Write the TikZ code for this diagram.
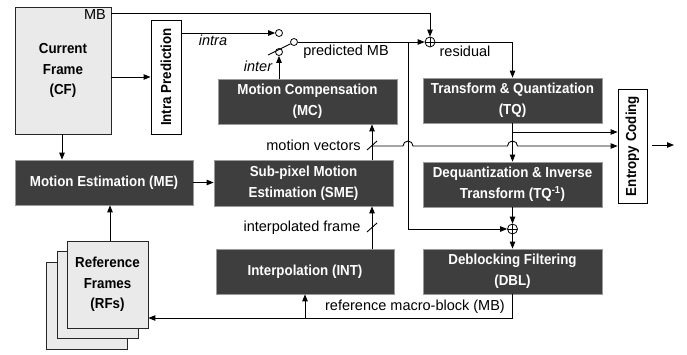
\documentclass[tikz,border=0pt]{standalone}
\usepackage{fontspec}
\setmainfont{Liberation Sans}
\newfontfamily\condfont[FakeStretch=0.92]{Liberation Sans}
\usetikzlibrary{arrows.meta}
\definecolor{boxdark}{HTML}{3E3E3E}
\definecolor{boxedge}{HTML}{9A9A9A}
\definecolor{boxlight}{HTML}{EAEAEA}
\tikzset{
  darkbox/.style={draw=boxedge, line width=0.8pt, fill=boxdark, text=white,
    font=\condfont\bfseries\fontsize{14.5}{21}\selectfont, align=center,
    inner sep=0pt, minimum width=179pt, minimum height=45pt},
  framebox/.style={draw=black!85, line width=0.8pt, fill=boxlight,
    font=\condfont\bfseries\fontsize{14.5}{20.5}\selectfont, align=center,
    inner sep=0pt},
  sidebox/.style={draw=black, line width=0.9pt, fill=white, inner sep=0pt},
  sidetext/.style={rotate=90, font=\condfont\bfseries\fontsize{14.5}{16}\selectfont, inner sep=0pt},
  sumnode/.style={circle, draw=black, line width=0.8pt, minimum size=10pt, inner sep=0pt,
    path picture={\draw[line width=0.8pt] (path picture bounding box.north) -- (path picture bounding box.south)
      (path picture bounding box.west) -- (path picture bounding box.east);}},
  contact/.style={circle, draw=black, line width=0.8pt, fill=white, minimum size=7pt, inner sep=0pt},
  wire/.style={line width=0.9pt},
  arr/.style={wire, -{Triangle[length=7pt,width=5.5pt]}},
  lbl/.style={font=\fontsize{14.5}{16}\selectfont, inner sep=0pt},
  ilbl/.style={font=\itshape\fontsize{14.5}{16}\selectfont, inner sep=0pt},
}
\begin{document}
\begin{tikzpicture}[x=1pt, y=-1pt]
\useasboundingbox (0,0) rectangle (687,354);

% Frame stores
\node[framebox, minimum width=96pt, minimum height=127pt] (CF) at (63,70.5) {Current\\Frame\\(CF)};
\node[framebox, minimum width=81pt, minimum height=87pt] (RF3) at (86.5,305.5) {};
\node[framebox, minimum width=81pt, minimum height=87pt] (RF2) at (97.5,294.5) {};
\node[framebox, minimum width=81pt, minimum height=87pt] (RF1) at (107.5,284.5) {Reference\\Frames\\(RFs)};

% Side boxes with vertical text
\node[sidebox, minimum width=30pt, minimum height=114pt] (IP) at (166,77) {};
\node[sidetext] (IPt) at (IP.center) {Intra Prediction};
\node[sidebox, minimum width=29pt, minimum height=114pt] (EC) at (632.5,146) {};
\node[sidetext] (ECt) at (EC.center) {Entropy Coding};

% Processing blocks
\node[darkbox] (MC)  at (307.5,101.5) {Motion Compensation\\(MC)};
\node[darkbox, minimum height=46pt] (SME) at (303.5,183) {Sub-pixel Motion\\Estimation (SME)};
\node[darkbox, minimum width=178pt] (ME)  at (104,182.5) {Motion Estimation (ME)};
\node[darkbox, minimum width=178pt] (INT) at (305,271.5) {Interpolation (INT)};
\node[darkbox] (TQ)  at (512.5,100.5) {Transform \& Quantization\\(TQ)};
\node[darkbox] (TQI) at (512.5,184.5) {Dequantization \& Inverse\\Transform (TQ\textsuperscript{-1})};
\node[darkbox] (DBL) at (512.5,271.5) {Deblocking Filtering\\(DBL)};

% Adders and the intra/inter switch
\node[sumnode] (add1) at (430,42) {};
\node[sumnode] (add2) at (512.5,229) {};
\node[contact] (sa) at (279,33) {};
\node[contact] (sb) at (279,52) {};
\node[contact] (sc) at (294,42) {};

% Helper points
\coordinate (mbout) at (111,13);
\coordinate (lever) at (268,55);
\coordinate (br1) at (408,42);
\coordinate (tqtap) at (512.5,132);
\coordinate (mvtap) at (372,146);
\coordinate (ecout) at (674,145);
\coordinate (fb) at (512.5,318);
\coordinate (inttap) at (305,318);
\coordinate (cfx) at (62,0);
\coordinate (rfx) at (110,0);

% Current frame paths
\draw[arr] (mbout) -| (add1.north);
\draw[arr] (IP.west -| CF.east) -- (IP.west);
\draw[arr] (CF.south -| cfx) -- (ME.north -| cfx);
\draw[arr] (RF1.north -| rfx) -- (ME.south -| rfx);
\draw[arr] (ME.east) -- (SME.west |- ME.east);

% Prediction selection
\draw[arr] (IP.east |- sa) -- (sa.west);
\draw[wire] (sc) -- (lever);
\draw[arr] (MC.north -| sb) -- (sb.south);
\draw[arr] (sc.east) -- (add1.west);
\draw[arr] (br1) |- (add2.west);

% Transform path
\draw[arr] (add1.east) -| (TQ.north);
\draw[arr] (TQ.south) -- (TQI.north);
\draw[arr] (tqtap) -- (EC.west |- tqtap);
\draw[arr] (TQI.south) -- (add2.north);
\draw[arr] (add2.south) -- (DBL.north);
\draw[arr, shorten <=5pt] (EC.east |- ecout) -- (ecout);

% Motion vectors, hopping over the vertical wires
\draw[arr] (SME.north -| mvtap) -- (MC.south -| mvtap);
\draw[arr] (mvtap) -- (403,146) arc (180:360:5) -- (507.5,146) arc (180:360:5) -- (EC.west |- mvtap);
\draw[wire] (367,150) -- (377,141);

% Interpolation
\draw[arr] (INT.north -| mvtap) -- (SME.south -| mvtap);
\draw[wire] (367,232) -- (377,223);

% Reconstructed macro-block feedback
\draw[arr] (DBL.south) -- (fb) -- (RF1.east |- fb);
\draw[arr] (inttap) -- (INT.south);

% Labels
\node[lbl, anchor=east] (mbl) at (106,15) {MB};
\node[ilbl] (intral) at (213,40) {intra};
\node[ilbl] (interl) at (258,66) {inter};
\node[lbl] (predl) at (346,52) {predicted MB};
\node[lbl] (resl) at (465,51) {residual};
\node[lbl] (mvl) at (313.5,145) {motion vectors};
\node[lbl] (ifl) at (302,228) {interpolated frame};
\node[lbl] (rmbl) at (415,307) {reference macro-block (MB)};
\end{tikzpicture}
\end{document}
